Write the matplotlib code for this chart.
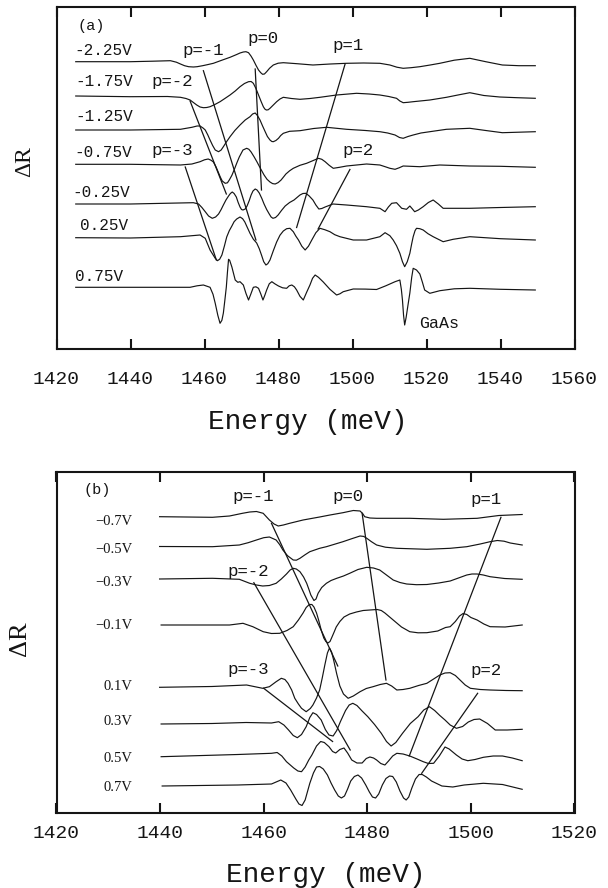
import numpy as np
import matplotlib.pyplot as plt

plt.rcParams['font.family'] = ['Liberation Mono', 'DejaVu Sans']

# ---------------- panel (a) : energy (meV) / dR (arb. units) ----------------
a_volts = ['-2.25V', '-1.75V', '-1.25V', '-0.75V', '-0.25V', '0.25V', '0.75V']
a_offsets = [287.3, 252.5, 219, 184.7, 145, 111.3, 61.7]

a_E1 = [1425.2, 1440.0, 1446.0, 1450.8, 1452.4, 1453.5, 1454.6, 1455.7, 1457.0, 1458.0, 1459.5, 1461.0, 1462.4,
        1464.7, 1466.9, 1468.7, 1469.6, 1470.5, 1471.2, 1471.9, 1472.6, 1473.2, 1473.9, 1474.6, 1475.2, 1475.7,
        1476.2, 1476.8, 1477.6, 1478.6, 1479.9, 1481.3, 1485.0, 1489.3, 1494.0, 1498.4, 1503.0, 1507.4, 1510.1,
        1512.0, 1513.7, 1515.8, 1518.2, 1521.0, 1523.6, 1527.5, 1531.7, 1536.0, 1540.5, 1545.0, 1549.4]
a_R1 = [0, 0, 0.5, 1, -0.5, -2.3, -4, -5, -5.3, -5, -4, -2.8, -1.6,
        1.5, 4.4, 7.2, 8.7, 9.7, 10, 9, 5.5, 1.7, -3.5, -8.3, -11, -12.6,
        -12.3, -10, -6.5, -3.3, -1.5, -1, -2, -3.3, -2.3, -1.6, -1.3, -1.6, -3.3,
        -5.5, -6.6, -6, -5, -3.3, -1.6, 1.5, 3.4, 0, -3.3, -4, -4]

a_E2 = [1425.2, 1440.0, 1450.0, 1453.5, 1455.0, 1456.1, 1457.0, 1457.9, 1458.8, 1459.7, 1460.6, 1461.5, 1462.8,
        1464.2, 1465.5, 1466.9, 1468.3, 1469.6, 1470.8, 1471.9, 1472.6, 1473.2, 1473.9, 1474.6, 1475.3, 1475.9,
        1476.3, 1476.7, 1477.2, 1477.7, 1478.6, 1479.5, 1480.4, 1481.3, 1483.5, 1485.8, 1488.5, 1491.2, 1495.7,
        1501.1, 1504.5, 1507.4, 1509.8, 1511.9, 1512.8, 1513.7, 1515.0, 1516.4, 1520.9, 1525.4, 1528.5, 1531.7,
        1535.5, 1539.8, 1544.5, 1549.4]
a_R2 = [0.5, -0.2, 0, -0.8, -2, -3.5, -6, -8.5, -10.5, -11.2, -11, -10.2, -8,
        -5.2, -2, 1.5, 5.5, 9.8, 13, 14.8, 15, 13.2, 8, 1.5, -5, -10.2,
        -12.5, -13.5, -13.3, -11.8, -8.5, -5.2, -2.5, -0.8, -2, -2.8, -2, -0.8, 1.5,
        3.2, 2.5, 1.5, 0, -1.8, -4.5, -6.2, -5.8, -5.2, -3.5, -0.8, 1.5, 3.8,
        1, -0.5, -1.2, -1.8]

a_E3 = [1425.2, 1440.0, 1453.5, 1456.6, 1458.0, 1458.8, 1459.6, 1460.2, 1460.9, 1461.5, 1462.2, 1462.9, 1463.8,
        1464.5, 1465.1, 1466.0, 1466.9, 1468.2, 1469.6, 1471.0, 1472.3, 1473.0, 1473.7, 1474.3, 1475.0, 1475.7,
        1476.4, 1477.0, 1477.7, 1478.2, 1478.6, 1479.3, 1480.0, 1480.6, 1481.3, 1483.0, 1485.8, 1489.5, 1493.0,
        1498.4, 1503.5, 1507.4, 1509.5, 1511.5, 1512.7, 1513.7, 1515.0, 1516.4, 1518.5, 1520.9, 1525.4, 1531.7,
        1536.0, 1540.5, 1549.4]
a_R3 = [0, 0, 0.7, 2.7, 4, 4, 2, 0, -5, -10, -15.5, -20, -21.7,
        -20, -16.7, -11.5, -6.7, -0.5, 5, 10, 13.3, 16, 17, 14.5, 10, 4,
        -1.7, -6.5, -10, -11.5, -11.7, -10.5, -8.3, -5.5, -3.3, -1.3, -0.7, 1.5, 2.7,
        0.7, -0.5, -1.7, -3, -5, -7.5, -8.3, -6.5, -5, -3, -1.7, 0.7, 1.7,
        -0.5, -2.7, -1.7]

a_E4 = [1425.2, 1440.0, 1453.5, 1456.6, 1458.8, 1460.0, 1461.0, 1461.8, 1462.4, 1463.1, 1463.7, 1464.3, 1464.8,
        1465.6, 1466.2, 1466.7, 1467.4, 1468.0, 1468.7, 1469.4, 1470.0, 1470.4, 1471.4, 1472.0, 1472.6, 1473.4,
        1474.2, 1475.1, 1476.1, 1476.9, 1477.7, 1478.4, 1479.1, 1479.9, 1480.7, 1481.4, 1482.0, 1483.0, 1484.0,
        1485.8, 1487.6, 1489.2, 1490.8, 1491.7, 1492.6, 1493.7, 1494.8, 1496.5, 1498.4, 1503.8, 1507.4, 1508.9,
        1510.1, 1511.5, 1512.6, 1513.7, 1518.2, 1523.6, 1531.7, 1540.0, 1549.4]
a_R4 = [0, 0, -0.7, 0.3, 2.6, 4.5, 5.3, 4, 2.3, -2.5, -7.7, -13, -16.7,
        -19, -18.5, -15.7, -11, -5.7, 1, 7.3, 11.5, 14.3, 16, 15, 12.3, 7.5,
        2.3, -4, -10.7, -15, -17.7, -19.3, -19.7, -18.3, -15.7, -12.5, -9.7, -6.5, -4,
        -1, 1, 3.5, 6, 5, 2.6, -1, -4, -3, -1.7, 0.3, -0.7, -2.5,
        -4, -5, -3.5, -1.7, -2.4, -0.7, -1.7, -2, -3]

a_E5 = [1425.2, 1440.0, 1457.0, 1458.4, 1459.3, 1460.2, 1461.1, 1462.1, 1463.0, 1463.8, 1464.5, 1465.1, 1465.8,
        1466.5, 1467.0, 1467.5, 1468.0, 1468.6, 1469.1, 1469.6, 1470.0, 1470.4, 1471.0, 1471.5, 1472.1, 1472.6,
        1473.1, 1473.7, 1474.2, 1474.8, 1475.5, 1476.1, 1476.8, 1477.5, 1478.0, 1478.5, 1479.2, 1479.9, 1480.8,
        1481.8, 1483.0, 1484.2, 1485.0, 1485.8, 1486.6, 1487.4, 1488.3, 1489.3, 1490.1, 1490.9, 1491.7, 1492.6,
        1494.7, 1498.4, 1503.8, 1507.4, 1508.8, 1509.7, 1510.6, 1511.9, 1512.6, 1513.3, 1514.6, 1515.5, 1516.2,
        1516.8, 1517.8, 1519.1, 1520.5, 1521.8, 1523.2, 1524.5, 1528.4, 1531.7, 1540.0, 1549.4]
a_R5 = [0, 0, 1.3, 0, -3.5, -7.7, -12, -14.3, -13, -10, -5.5, -1, 4,
        8, 10.5, 12, 10.5, 7, 1.5, -3, -5.5, -6, -5, -2, 3.5, 9,
        13, 15, 14, 11, 5.5, 0, -5.5, -10, -13, -14.3, -13.5, -11, -6.5,
        -2, 1.5, 4, 6.5, 9, 10.5, 10.7, 8, 4, -1, -5, -4.5, -3,
        0, -1, -2.7, -4.3, -7.7, -3, 0.7, 1.3, -1.5, -4.3, -5.3, -2, -5,
        -7.7, -6, -2.7, 1.5, 4, 0, -4.3, -4.3, -4.3, -3.5, -2.7]

a_E6 = [1425.2, 1440.0, 1453.5, 1458.8, 1460.2, 1461.5, 1462.9, 1463.5, 1464.1, 1464.7, 1465.4, 1466.0, 1466.7,
        1467.4, 1468.0, 1468.7, 1469.6, 1470.3, 1470.9, 1471.6, 1472.3, 1473.2, 1474.1, 1474.8, 1475.4, 1476.0,
        1476.6, 1477.1, 1477.7, 1478.6, 1479.5, 1480.4, 1481.3, 1482.2, 1483.1, 1484.0, 1484.7, 1485.4, 1486.3,
        1487.2, 1488.1, 1489.0, 1490.1, 1491.2, 1492.5, 1493.9, 1495.2, 1496.6, 1500.2, 1503.8, 1507.4, 1508.8,
        1510.1, 1511.0, 1511.9, 1512.8, 1513.5, 1514.1, 1514.8, 1515.5, 1516.0, 1516.4, 1516.9, 1517.3, 1518.2,
        1519.1, 1520.4, 1521.8, 1524.5, 1527.2, 1531.7, 1540.0, 1549.4]
a_R6 = [0, -0.3, 1, 2.7, -0.6, -12.3, -20.6, -23, -21.5, -17.3, -8, 0.7, 7,
        11.7, 16, 18.7, 20.7, 19, 15.7, 10, 4.4, -1.5, -5.3, -11, -17.3, -24,
        -27.3, -26, -22.3, -13, -4.3, 2.5, 6.7, 9, 9.4, 6, 1.5, -2.3, -8.5,
        -12.3, -8.5, -2.3, 5, 9.4, 8, 6, 3, 1, -2.3, -2.3, 1, 5,
        2, -2.3, -8, -15.6, -24, -29, -24, -15.6, -6, 1, 7, 9.4, 9,
        7.7, 4, 1, -4, -1.6, 1, -1, -2.3]

a_E7 = [1425.2, 1445.0, 1456.1, 1458.0, 1459.7, 1461.5, 1462.3, 1462.9, 1463.6, 1464.2, 1464.7, 1465.1, 1465.5,
        1465.9, 1466.2, 1466.5, 1466.8, 1467.4, 1468.3, 1469.0, 1469.6, 1470.5, 1471.2, 1471.9, 1472.5, 1473.2,
        1473.9, 1474.6, 1475.2, 1475.8, 1476.3, 1476.8, 1477.5, 1478.2, 1479.0, 1480.0, 1481.1, 1482.2, 1482.9,
        1483.6, 1484.3, 1484.9, 1485.8, 1486.7, 1487.6, 1488.5, 1489.2, 1489.9, 1490.8, 1492.1, 1493.9, 1495.7,
        1496.6, 1497.5, 1500.2, 1503.5, 1506.5, 1509.0, 1511.5, 1512.8, 1513.2, 1513.5, 1513.8, 1514.1, 1514.5,
        1515.0, 1515.5, 1516.0, 1516.4, 1517.3, 1518.2, 1518.9, 1519.5, 1520.9, 1523.6, 1527.5, 1531.7, 1540.0,
        1549.4]
a_R7 = [0, 0, 0, 1.5, 2.3, 0, -7, -16, -28, -36, -33, -25.7, -13,
        0.3, 15, 28, 27, 20.3, 7.3, 5, 5.6, 2.3, -6, -12.7, -7, 0,
        0.5, -1, -6.5, -12.7, -8, -2.7, 3.5, 5.6, 3.5, 1.3, -0.5, -1, 1.5,
        2.3, 0.5, -2.7, -9, -12.7, -5, 2.3, 9, 12.3, 10, 5.3, -2, -7.7,
        -6.5, -4.4, -1.7, -1.8, -2.2, 1.5, 5.6, 7.3, -2, -12.7, -28, -37.7, -30,
        -17.7, -5.7, 10, 19, 17.3, 13.3, 5, -2.7, -6, -3.4, -1.5, -1, -2,
        -2.7]

a_energies = [a_E1, a_E2, a_E3, a_E4, a_E5, a_E6, a_E7]
a_signals = [a_R1, a_R2, a_R3, a_R4, a_R5, a_R6, a_R7]

# Stark ladder guide lines (a): start/end energy and level
a_p = ['p=-1', 'p=0', 'p=1', 'p=-2', 'p=-3', 'p=2']
a_line_E = [(1459.7, 1473.9), (1473.7, 1475.4), (1498.0, 1484.9), (1456.1, 1465.9), (1454.8, 1463.2), (1499.3, 1490.7)]
a_line_v = [(278.3, 109), (280, 159), (285, 121.5), (248, 155), (182, 89), (179.5, 120)]
a_p_pos = [(1459.7, 299), (1475.7, 310.7), (1498.9, 304), (1451.2, 267.3), (1451.2, 199), (1501.6, 199)]
a_volt_pos = [(1424.7, 299), (1425.2, 267.3), (1425.2, 232.3), (1424.7, 196.3), (1424.2, 156.3), (1426.3, 124), (1424.9, 72.3)]

# ---------------- panel (b) ----------------
b_volts = ['\u22120.7V', '\u22120.5V', '\u22120.3V', '\u22120.1V', '0.1V', '0.3V', '0.5V', '0.7V']
b_offsets = [295.7, 266, 233.7, 187.7, 125.7, 89.2, 57.7, 27.7]

b_E1 = [1439.9, 1450.1, 1453.4, 1455.9, 1457.3, 1458.6, 1459.9, 1461.1, 1462.0, 1462.8, 1463.8, 1465.0, 1467.6,
        1470.8, 1472.8, 1475.3, 1477.3, 1478.6, 1479.1, 1479.5, 1480.5, 1481.8, 1488.2, 1494.7, 1501.2, 1505.4,
        1509.9]
b_R1 = [0.3, -0.3, 1, 3.7, 5, 5.5, 3.7, -3, -7, -9, -8, -6.3, -3,
        0, 2, 4.3, 6.5, 6, 3.5, 0.3, -1, -1.3, -1.3, -2.3, -1.3, 1.5,
        2.5]

b_E2 = [1439.9, 1450.1, 1455.3, 1457.0, 1458.6, 1460.0, 1461.1, 1462.4, 1463.1, 1463.7, 1464.6, 1465.7, 1466.3,
        1467.0, 1468.0, 1468.9, 1470.8, 1472.1, 1473.7, 1475.3, 1477.0, 1478.6, 1479.3, 1479.9, 1480.8, 1481.8,
        1483.5, 1485.7, 1491.5, 1496.0, 1499.2, 1501.8, 1503.7, 1505.1, 1506.4, 1507.6, 1509.9]
b_R2 = [0.2, 0, 1.7, 4, 6.7, 9, 9.7, 6.7, 2, -3.3, -9, -13.3, -13.5,
        -11.6, -8, -5, -1.6, 0, 2.5, 5, 8, 10.7, 10.3, 8.4, 5, 1.7,
        -0.5, -1.6, -2.6, -1.6, 0, 2.7, 5, 6.2, 5.5, 3.7, 1.7]

b_E3 = [1439.9, 1450.1, 1455.3, 1457.3, 1458.6, 1459.8, 1461.1, 1462.4, 1463.4, 1464.4, 1465.1, 1465.7, 1466.3,
        1467.0, 1467.7, 1468.3, 1468.7, 1469.1, 1469.7, 1470.1, 1470.5, 1471.2, 1472.1, 1473.0, 1474.1, 1475.4,
        1476.6, 1478.2, 1479.9, 1481.2, 1482.4, 1483.7, 1485.0, 1486.3, 1487.6, 1489.5, 1491.5, 1493.8, 1496.0,
        1497.6, 1499.2, 1500.2, 1501.2, 1502.4, 1503.7, 1506.5, 1509.9]
b_R3 = [0, 0.7, -0.3, -4.3, -6, -7, -6.5, -4.3, 0, 5, 9, 10.7, 10,
        7.3, 2, -4.3, -10, -16, -21.5, -20, -14.3, -8.5, -4.3, -1.5, 0.7, 3,
        5.7, 9.5, 11.7, 11, 9, 4, -1, -3.5, -5, -5.7, -5.5, -4, -2,
        1, 4, 5, 5, 4, 2.3, 0.5, -0.3]

b_E4 = [1440.2, 1450.0, 1453.4, 1456.0, 1457.9, 1459.9, 1461.5, 1463.1, 1464.5, 1465.7, 1466.7, 1467.6, 1468.2,
        1468.8, 1469.3, 1469.7, 1470.2, 1470.6, 1471.1, 1471.6, 1472.0, 1472.4, 1472.8, 1473.1, 1473.6, 1474.0,
        1474.7, 1475.5, 1476.6, 1477.9, 1479.2, 1480.5, 1481.9, 1482.7, 1483.4, 1484.2, 1485.0, 1486.6, 1488.2,
        1489.8, 1491.5, 1493.6, 1495.1, 1496.0, 1497.0, 1497.8, 1498.5, 1499.2, 1500.0, 1501.2, 1502.5, 1503.7,
        1506.6, 1509.9]
b_R4 = [0, 0, 0, 1.7, -1.7, -6.7, -8.5, -8.3, -5.5, -1.7, 5, 12, 17.5,
        20.5, 20.5, 18, 12, 5, -5, -13, -16.5, -18, -16.5, -13, -7, -2,
        3.5, 8, 11, 13, 14.5, 15, 15.5, 14.5, 12, 8.5, 5, -2, -6.7,
        -7.8, -7.7, -6, -2.5, -1.7, 3.5, 9, 11.5, 10.5, 7.5, 5, 1, -1.7,
        -2, 0]

b_E5 = [1439.9, 1450.0, 1456.7, 1459.8, 1461.1, 1462.4, 1463.4, 1464.1, 1464.7, 1465.4, 1466.0, 1466.7, 1467.3,
        1468.2, 1469.0, 1469.5, 1470.2, 1470.8, 1471.3, 1471.8, 1472.3, 1472.7, 1473.1, 1473.5, 1474.1, 1474.7,
        1475.4, 1476.3, 1477.3, 1478.6, 1479.8, 1481.1, 1482.5, 1483.7, 1484.7, 1485.7, 1486.9, 1488.2, 1489.9,
        1491.5, 1492.8, 1494.0, 1495.0, 1496.0, 1497.0, 1497.9, 1498.9, 1499.9, 1501.8, 1503.7, 1506.8, 1509.9]
b_R5 = [-0.3, 0.5, 2, -1.3, 0.3, 5.3, 8.7, 7.5, 3.7, -3, -11.3, -17, -21.3,
        -24.7, -21.5, -18, -11, -3, 9, 22, 34, 39, 35, 27, 13, 1,
        -7, -11.3, -9, -4.7, -1.5, 0.3, 2.5, 3.7, 1, -3, -2.5, -1.3, 1.5,
        3.7, 8, 12, 14, 14.3, 11.5, 7, 2, -1.3, -2.5, -3, -3.5, -3.7]

b_E6 = [1440.2, 1450.0, 1456.6, 1461.5, 1462.9, 1463.9, 1464.8, 1465.7, 1466.5, 1467.3, 1468.2, 1468.9, 1469.5,
        1470.2, 1471.1, 1471.9, 1472.6, 1473.4, 1474.1, 1474.8, 1475.8, 1476.5, 1477.2, 1478.0, 1479.0, 1480.1,
        1481.4, 1482.7, 1483.7, 1484.6, 1485.5, 1486.8, 1488.3, 1489.8, 1490.9, 1492.0, 1493.0, 1494.0, 1495.0,
        1496.0, 1497.2, 1498.4, 1499.5, 1500.6, 1501.7, 1503.2, 1504.7, 1507.0, 1509.9]
b_R6 = [-0.5, 0, 1, 0.5, 1.8, -1.5, -6.5, -12, -14.2, -11, -3.2, 6, 10.8,
        9, 3.5, -6, -11.5, -12.5, -7, 1.8, 13, 18.5, 20.2, 18, 12.5, 6.8,
        -1, -9.8, -18, -22.5, -19, -9.8, 0, 6.8, 13.5, 16.8, 13, 8, 3.5,
        -1.5, -4.8, -3, 1.5, 4, 4.5, 0, -6.5, -6.5, -5.8]

b_E7 = [1440.2, 1455.0, 1461.5, 1462.6, 1463.5, 1464.4, 1465.8, 1466.6, 1467.3, 1468.0, 1468.7, 1469.3, 1470.2,
        1471.0, 1471.7, 1472.6, 1473.3, 1473.9, 1474.7, 1475.5, 1476.2, 1477.0, 1478.0, 1479.0, 1479.8, 1480.5,
        1481.2, 1481.8, 1482.6, 1483.4, 1484.1, 1484.9, 1485.7, 1486.9, 1488.2, 1489.6, 1490.8, 1491.8, 1492.8,
        1493.9, 1495.0, 1495.8, 1497.2, 1498.3, 1499.4, 1500.8, 1502.4, 1504.3, 1506.1, 1508.0, 1509.9]
b_R7 = [-1.7, 0.5, 1.7, 2.5, -1, -6.7, -13, -16, -16.7, -12, -5, 0, 9,
        13.5, 12.5, 8.3, 3.5, 2, 5.5, 7, 2, -5, -8, -8, -3.5, -2,
        -3, -5, -8.5, -10, -6, -1, 1.7, 1, -1, -4, -6.7, -8.5, -8.3,
        -1, 8, 6, 0, -4, -5.7, -4.5, -2.3, -1, -1, -3, -5.7]

b_E8 = [1440.4, 1455.0, 1461.5, 1463.3, 1464.3, 1465.2, 1466.2, 1466.8, 1467.4, 1468.0, 1468.9, 1469.6, 1470.2,
        1470.8, 1471.5, 1472.3, 1473.0, 1473.7, 1474.4, 1475.0, 1475.6, 1476.2, 1476.8, 1477.5, 1478.2, 1478.9,
        1479.7, 1480.4, 1481.0, 1481.6, 1482.2, 1482.9, 1483.6, 1484.3, 1484.9, 1485.6, 1486.3, 1487.0, 1487.5,
        1488.0, 1488.6, 1489.3, 1490.0, 1490.6, 1491.4, 1492.4, 1494.4, 1496.5, 1498.7, 1502.4, 1506.1, 1509.9]
b_R8 = [-1, 0, 1, 5, 2, -5, -14, -19, -20.5, -15, 1.7, 12, 18,
        18.5, 16, 10, 2, -5, -11, -13, -11, -4, 4, 8.5, 10, 7,
        0, -7, -12, -13, -9, 0, 6.5, 9, 8.5, 3, -6, -13, -15,
        -12, -3, 6, 10.5, 10.5, 8, 4, -1, -2, 0, 1.7, 0.5, -4.3]

b_energies = [b_E1, b_E2, b_E3, b_E4, b_E5, b_E6, b_E7, b_E8]
b_signals = [b_R1, b_R2, b_R3, b_R4, b_R5, b_R6, b_R7, b_R8]

b_p = ['p=-1', 'p=0', 'p=1', 'p=-2', 'p=-3', 'p=2']
b_line_E = [(1461.5, 1474.3), (1479.0, 1483.6), (1505.8, 1488.1), (1458.1, 1476.7), (1460.0, 1473.3), (1501.3, 1490.5)]
b_line_v = [(289.4, 146.7), (299.4, 132.7), (295.4, 56.7), (230, 62.7), (124.4, 71.2), (119.4, 39.4)]
b_p_pos = [(1458.0, 316), (1476.2, 316), (1502.9, 313.4), (1457.0, 241.7), (1457.0, 143.4), (1502.9, 142.7)]
b_volt_y = [291, 263.7, 230, 187.7, 126.7, 91, 54.4, 25.4]

INK = '#151515'

fig = plt.figure(figsize=(6.08, 8.88), dpi=100)
axA = fig.add_axes([56.5 / 608, 1 - 349 / 888, 518 / 608, 342 / 888])
axB = fig.add_axes([56.5 / 608, 1 - 812.7 / 888, 518 / 608, 341 / 888])

# panel (a)
for E, R, off in zip(a_energies, a_signals, a_offsets):
    axA.plot(E, np.array(R) + off, color=INK, lw=0.85, solid_joinstyle='round')
for (e0, e1), (v0, v1) in zip(a_line_E, a_line_v):
    axA.plot([e0, e1], [v0, v1], color=INK, lw=0.9)
for lab, (e, v) in zip(a_p, a_p_pos):
    axA.text(e, v, lab, fontsize=12.5, ha='center', va='center', color=INK)
for lab, (e, v) in zip(a_volts, a_volt_pos):
    axA.text(e, v, lab, fontsize=11.5, ha='left', va='center', color=INK)
axA.text(1425.7, 323.3, '(a)', fontsize=11, ha='left', va='center', color=INK)
axA.text(1518.1, 25.7, 'GaAs', fontsize=12, ha='left', va='center', color=INK)
axA.set_xlim(1420, 1560)
axA.set_ylim(0, 342)
axA.set_xticks(np.arange(1420, 1561, 20))
axA.tick_params(axis='x', direction='in', top=True, bottom=True, length=7, width=1.5,
                labelsize=14, pad=15.5, colors=INK)
axA.set_yticks([])
axA.set_xlabel('Energy (meV)', fontsize=20, color=INK)
axA.xaxis.set_label_coords((308 - 56.5) / 518, (349 - 421.7) / 342)
axA.xaxis.label.set_va('center')
axA.set_ylabel('\u0394R', fontsize=17, family='Liberation Serif', color=INK)
axA.yaxis.set_label_coords((25 - 56.5) / 518, (349 - 162) / 342)
axA.yaxis.label.set_va('center')

# panel (b)
for E, R, off in zip(b_energies, b_signals, b_offsets):
    axB.plot(E, np.array(R) + off, color=INK, lw=0.85, solid_joinstyle='round')
for (e0, e1), (v0, v1) in zip(b_line_E, b_line_v):
    axB.plot([e0, e1], [v0, v1], color=INK, lw=0.9)
for lab, (e, v) in zip(b_p, b_p_pos):
    axB.text(e, v, lab, fontsize=12.5, ha='center', va='center', color=INK)
for lab, v in zip(b_volts, b_volt_y):
    axB.text(1434.6, v, lab, fontsize=10.5, family='Liberation Serif', ha='right', va='center', color=INK)
axB.text(1425.3, 322.7, '(b)', fontsize=11, ha='left', va='center', color=INK)
axB.set_xlim(1420, 1520)
axB.set_ylim(0, 341)
axB.set_xticks(np.arange(1420, 1521, 20))
axB.tick_params(axis='x', direction='in', top=True, bottom=True, length=7, width=1.5,
                labelsize=14, pad=9.2, colors=INK)
axB.set_yticks([])
axB.set_xlabel('Energy (meV)', fontsize=20, color=INK)
axB.xaxis.set_label_coords((325.5 - 56.5) / 518, (812.7 - 875) / 341)
axB.xaxis.label.set_va('center')
axB.set_ylabel('\u0394R', fontsize=19, family='Liberation Serif', color=INK)
axB.yaxis.set_label_coords((20 - 56.5) / 518, (812.7 - 639) / 341)
axB.yaxis.label.set_va('center')

for ax in (axA, axB):
    for s in ax.spines.values():
        s.set_linewidth(1.5)
        s.set_color(INK)

fig.savefig('out.png', dpi=100)
